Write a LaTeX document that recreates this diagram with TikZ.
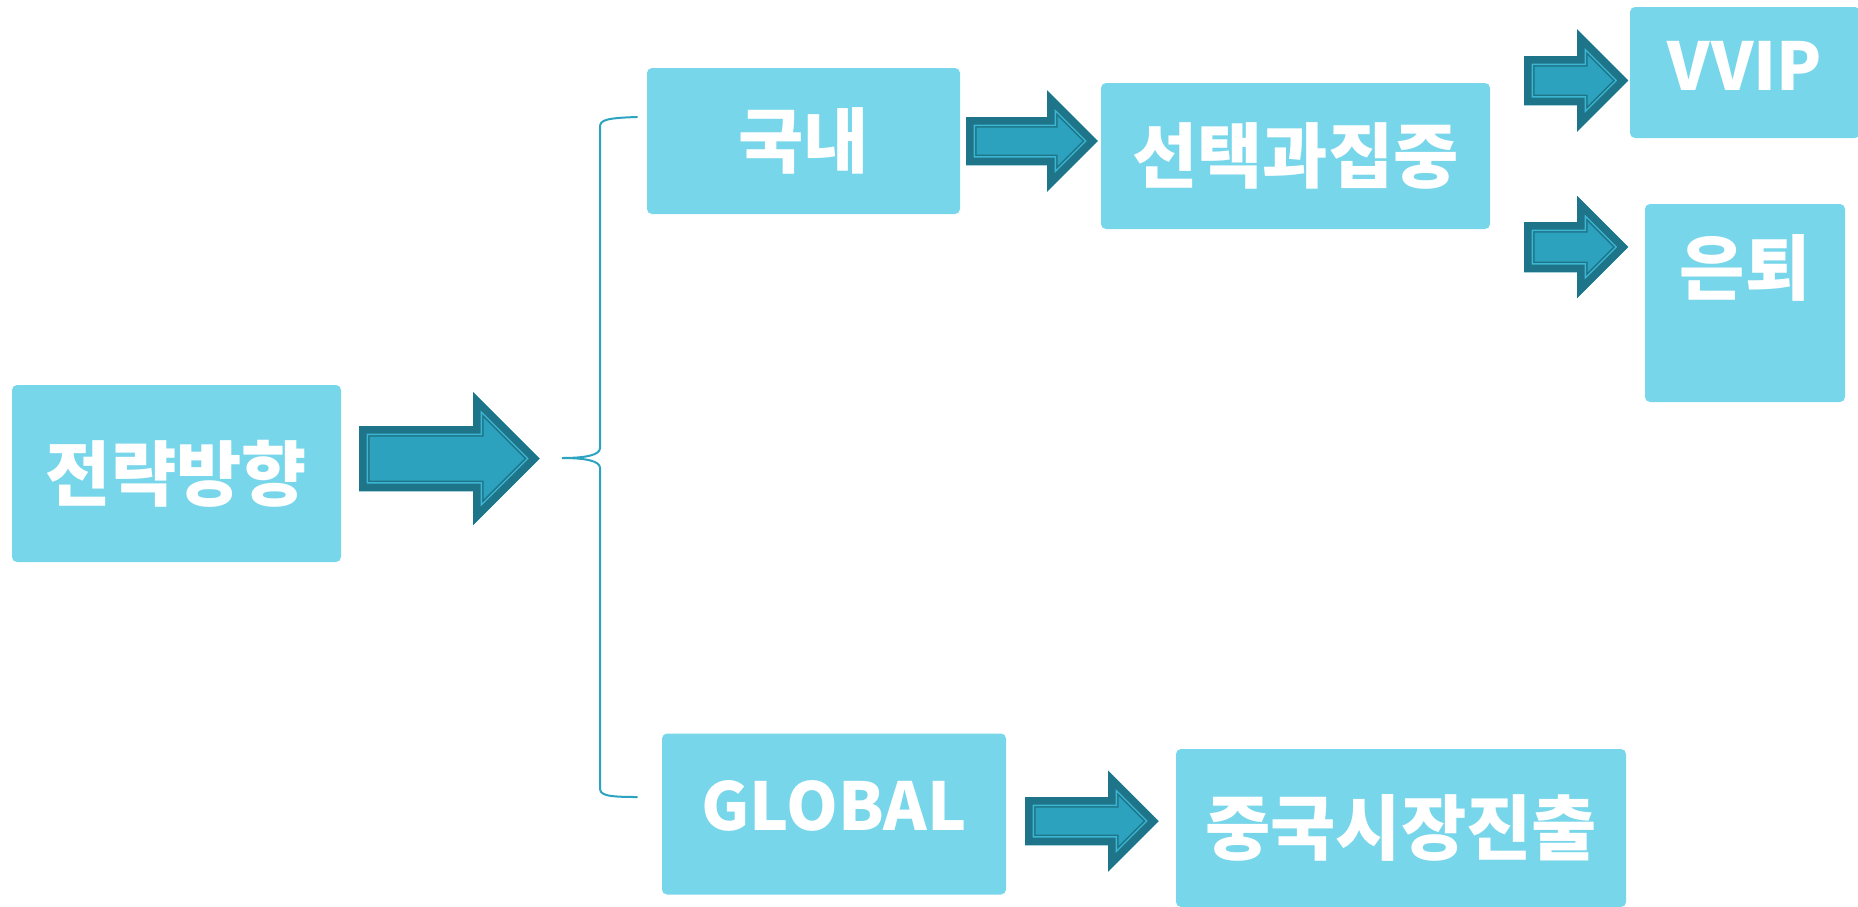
\documentclass[tikz,border=0pt]{standalone}
\usepackage{fontspec}
\newfontfamily\krfont{Noto Sans CJK KR}
\definecolor{boxfill}{HTML}{78D6EA}
\definecolor{arrowdark}{HTML}{1E7589}
\definecolor{arrowfill}{HTML}{2CA2BF}
\definecolor{arrowline}{HTML}{3CB6D2}
\definecolor{bracecol}{HTML}{2CA3C1}

\tikzset{
  stagebox/.style = {rectangle, rounded corners=5pt, fill=boxfill, text=white,
    inner sep=0pt, font=\krfont\bfseries\fontsize{71}{84}\selectfont},
  latinbox/.style = {stagebox, font=\krfont\bfseries\fontsize{66}{80}\selectfont},
}

% block arrow: left end (mid height), shaft length, shaft half width, head half width
\newcommand{\bigarrow}[4]{%
  \def\arrowpath{#1 -- ++(0,-#3) -- ++(#2,0) -- ++(0,#3-#4) -- ++(#4,#4)
    -- ++(-#4,#4) -- ++(0,#3-#4) -- ++(-#2,0) -- cycle}%
  \begin{scope}
    \clip \arrowpath;
    \fill[arrowfill] \arrowpath;
    \draw[arrowdark, line width=21pt] \arrowpath;
    \draw[arrowline, line width=18pt] \arrowpath;
    \draw[arrowdark, line width=15pt] \arrowpath;
  \end{scope}}

\begin{document}
\begin{tikzpicture}[x=1pt, y=-1pt]
    \useasboundingbox (0,0) rectangle (1858,906);

    % Boxes
    \node[stagebox, minimum width=329, minimum height=177] (strategy) at (176.5,473.5) {전략방향};
    \node[stagebox, minimum width=313, minimum height=146] (domestic) at (803.5,141) {국내};
    \node[stagebox, minimum width=389, minimum height=146] (focus) at (1295.5,156) {선택과집중};
    \node[latinbox, minimum width=230, minimum height=131] (vvip) at (1745,72.5) {\raisebox{7pt}[\height][\depth]{VVIP}};
    \node[stagebox, minimum width=200, minimum height=198] (retire) at (1745,303) {\raisebox{35pt}[\height][\depth]{은퇴}};
    \node[latinbox, minimum width=344, minimum height=161] (global) at (834,814) {\raisebox{8pt}[\height][\depth]{GLOBAL}};
    \node[stagebox, minimum width=450, minimum height=158] (china) at (1401,828) {중국시장진출};

    % Brace
    \draw[bracecol, line width=2pt, line cap=round]
        (637,117) .. controls (606,118) and (600,120) .. (600,127) -- (600,448)
        .. controls (600,455) and (586,458) .. (562,458)
        .. controls (586,458) and (600,461) .. (600,468) -- (600,788)
        .. controls (600,795) and (606,797) .. (637,797);

    % Arrows
    \bigarrow{(359,458.5)}{114}{32.5}{66.5}
    \bigarrow{(966,141)}{81}{24}{50.5}
    \bigarrow{(1524,80.5)}{53}{24.5}{51}
    \bigarrow{(1524,247)}{53}{25}{51}
    \bigarrow{(1025,821)}{83}{24}{50.5}

\end{tikzpicture}
\end{document}
